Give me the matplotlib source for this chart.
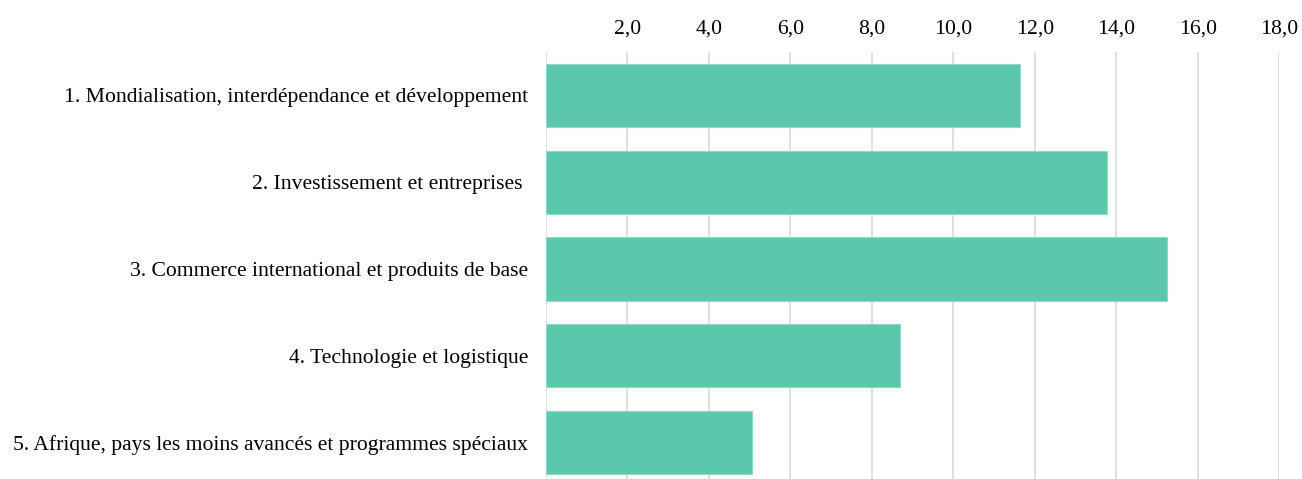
import matplotlib
matplotlib.use("Agg")
import matplotlib.pyplot as plt

categories = [
    "1. Mondialisation, interdépendance et développement",
    "2. Investissement et entreprises ",
    "3. Commerce international et produits de base",
    "4. Technologie et logistique",
    "5. Afrique, pays les moins avancés et programmes spéciaux",
]
values = [11.65, 13.78, 15.26, 8.7, 5.07]
tick_values = [0, 2, 4, 6, 8, 10, 12, 14, 16, 18]
tick_labels = ["", "2,0", "4,0", "6,0", "8,0", "10,0", "12,0", "14,0", "16,0", "18,0"]

plt.rcParams['font.family'] = ['Liberation Serif', 'DejaVu Serif']

fig = plt.figure(figsize=(13.02, 4.79), dpi=100)
ax = fig.add_axes([546/1302, 0.0, (1279-546)/1302, 1 - 52/479])

ypos = list(range(len(categories)))
ax.barh(ypos, values, height=0.73, color='#5BC8AC', edgecolor='#8FDAC6', linewidth=0.8, zorder=3)

ax.set_xlim(0, 18)
ax.set_ylim(4.42, -0.5)
ax.set_yticks(ypos)
ax.set_yticklabels(categories, fontsize=15.6)
ax.set_xticks(tick_values)
ax.set_xticklabels(tick_labels, fontsize=15.6)
ax.xaxis.tick_top()
ax.tick_params(axis='x', length=0, pad=10)
ax.tick_params(axis='y', length=0, pad=13)
ax.grid(axis='x', color='#d9d9d9', linewidth=1.2, zorder=0)
for s in ax.spines.values():
    s.set_visible(False)

fig.savefig("out.png", dpi=100)
